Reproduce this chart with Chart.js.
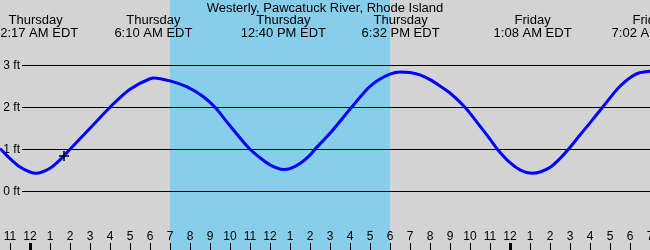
<!DOCTYPE html>
<html>
<head>
<meta charset="utf-8">
<script src="https://cdn.jsdelivr.net/npm/chart.js@4/dist/chart.umd.min.js"></script>
<style>
  html, body { margin: 0; padding: 0; background: #d3d3d3; }
  #box { width: 650px; height: 250px; position: relative; }
</style>
</head>
<body>
<div id="box"><canvas id="grafico"></canvas></div>
<script>
// Maré - Westerly, Pawcatuck River (horas contadas a partir da meia-noite de quinta)
const titulo = "Westerly, Pawcatuck River, Rhode Island";

const horasMare = [-1.5, -1.0, -0.5, 0.0, 0.28, 1.0, 1.5, 2.0, 3.0, 4.0, 4.5, 5.0, 6.0, 6.17, 7.0, 7.83, 8.67, 9.25,
  10.0, 11.0, 11.5, 12.0, 12.67, 13.0, 13.5, 14.0, 14.25, 15.0, 16.08, 17.0, 18.0, 18.53, 19.0, 19.5,
  20.0, 20.5, 21.0, 21.75, 22.5, 23.0, 23.37, 24.0, 24.5, 25.13, 26.0, 26.5, 26.92, 27.5, 28.0, 28.63,
  29.5, 30.3, 31.03];
const alturaMare = [1.02, 0.78, 0.58, 0.46, 0.43, 0.55, 0.75, 1.0, 1.5, 2.0, 2.23, 2.43, 2.68, 2.70, 2.63, 2.49, 2.25, 2.0,
  1.56, 1.0, 0.80, 0.63, 0.52, 0.54, 0.66, 0.86, 1.0, 1.38, 2.0, 2.50, 2.79, 2.84, 2.83, 2.77,
  2.66, 2.51, 2.34, 2.0, 1.55, 1.24, 1.0, 0.68, 0.51, 0.43, 0.57, 0.78, 1.0, 1.34, 1.63, 2.0,
  2.50, 2.79, 2.86];

// marcador "agora"
const horaAtual = [1.7];
const alturaAtual = [0.84];

// extremos de maré (rótulos no topo)
const horasEventos = [0.28, 6.17, 12.67, 18.53, 25.13, 31.03];
const diasEventos = ["Thursday", "Thursday", "Thursday", "Thursday", "Friday", "Friday"];
const textosEventos = ["12:17 AM EDT", "6:10 AM EDT", "12:40 PM EDT", "6:32 PM EDT", "1:08 AM EDT", "7:02 AM EDT"];

// eixo de horas
const horasTicks = [-1, 0, 1, 2, 3, 4, 5, 6, 7, 8, 9, 10, 11, 12, 13, 14, 15, 16, 17, 18, 19, 20,
  21, 22, 23, 24, 25, 26, 27, 28, 29, 30, 31];
const rotulosTicks = ["11", "12", "1", "2", "3", "4", "5", "6", "7", "8", "9", "10", "11", "12", "1", "2",
  "3", "4", "5", "6", "7", "8", "9", "10", "11", "12", "1", "2", "3", "4", "5", "6", "7"];
const meiaNoite = [0, 24];

// faixa diurna e linhas de grade
const diaInicio = 7, diaFim = 18;
const niveisGrade = [0, 1, 2, 3];
const rotulosGrade = ["0 ft", "1 ft", "2 ft", "3 ft"];

const fonte = '"Liberation Sans", Arial, sans-serif';

const fundoPlugin = {
  id: "fundo",
  beforeDraw(chart) {
    const { ctx, scales: { x, y }, width, height } = chart;
    ctx.save();
    ctx.fillStyle = "#d3d3d3";
    ctx.fillRect(0, 0, width, height);
    const x0 = x.getPixelForValue(diaInicio), x1 = x.getPixelForValue(diaFim);
    ctx.fillStyle = "#87ceeb";
    ctx.fillRect(x0, 0, x1 - x0, height);

    ctx.strokeStyle = "#000";
    ctx.lineWidth = 1;
    ctx.fillStyle = "#000";
    ctx.font = "12px " + fonte;
    ctx.textAlign = "right";
    ctx.textBaseline = "middle";
    niveisGrade.forEach((n, i) => {
      const py = Math.round(y.getPixelForValue(n)) + 0.5;
      ctx.beginPath();
      ctx.moveTo(22, py);
      ctx.lineTo(width, py);
      ctx.stroke();
      ctx.fillText(rotulosGrade[i], 20, py);
    });
    ctx.restore();
  },
  afterDraw(chart) {
    const { ctx, scales: { x }, width } = chart;
    ctx.save();
    ctx.fillStyle = "#000";
    ctx.textAlign = "center";
    ctx.textBaseline = "alphabetic";
    ctx.font = "13px " + fonte;
    ctx.fillText(titulo, width / 2, 12);
    horasEventos.forEach((h, i) => {
      const px = x.getPixelForValue(h);
      ctx.fillText(diasEventos[i], px, 24);
      ctx.fillText(textosEventos[i], px, 37);
    });

    ctx.font = "12px " + fonte;
    horasTicks.forEach((h, i) => {
      const px = Math.round(x.getPixelForValue(h));
      ctx.fillText(rotulosTicks[i], px, 240);
      const grosso = meiaNoite.includes(h);
      ctx.fillRect(px - (grosso ? 1 : 0), 243, grosso ? 3 : 1, 7);
    });
    ctx.restore();
  }
};

new Chart(document.getElementById("grafico"), {
  type: "line",
  data: {
    datasets: [
      {
        data: horaAtual.map((h, i) => ({ x: h, y: alturaAtual[i] })),
        showLine: false,
        pointStyle: "cross",
        pointRadius: 5,
        pointBorderWidth: 1.5,
        pointBorderColor: "#000",
        borderColor: "#000"
      },
      {
        data: horasMare.map((h, i) => ({ x: h, y: alturaMare[i] })),
        borderColor: "#0000ff",
        borderWidth: 3,
        pointRadius: 0,
        fill: false,
        cubicInterpolationMode: "monotone"
      }
    ]
  },
  options: {
    responsive: true,
    maintainAspectRatio: false,
    animation: false,
    layout: { padding: 0, autoPadding: false },
    plugins: { legend: { display: false }, tooltip: { enabled: false } },
    scales: {
      x: { type: "linear", min: -1.5, max: 31, display: false },
      y: { min: -1.398, max: 4.555, display: false }
    }
  },
  plugins: [fundoPlugin]
});
</script>
</body>
</html>
